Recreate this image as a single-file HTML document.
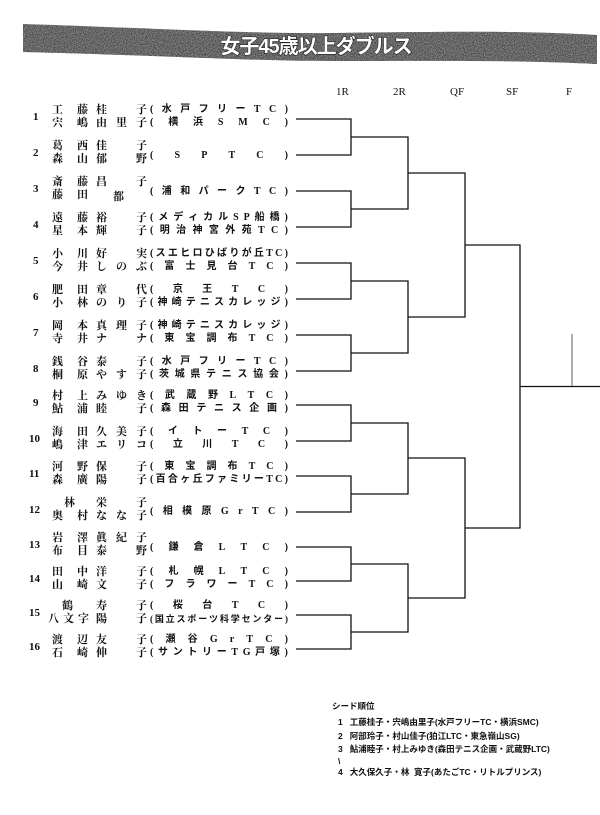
<!DOCTYPE html>
<html><head><meta charset="utf-8">
<style>
html,body{margin:0;padding:0;background:#fff;}
body{width:600px;height:815px;position:relative;overflow:hidden;font-family:"Liberation Serif","Noto Serif CJK SC","Noto Sans CJK JP",serif;color:#111;}
.t{position:absolute;font-size:11px;line-height:12px;font-weight:bold;white-space:nowrap;}
.n{position:absolute;font-size:11px;line-height:12px;font-weight:bold;font-family:"Liberation Serif",serif;}
.c{position:absolute;left:150px;width:138px;display:flex;justify-content:space-between;font-size:10px;line-height:12px;font-weight:bold;font-family:"Liberation Serif","Noto Sans CJK JP",sans-serif;}
.h{position:absolute;top:86px;font-size:11px;font-family:"Liberation Serif",serif;}
.s{position:absolute;left:332px;font-size:8.5px;line-height:11px;font-weight:bold;font-family:"Liberation Sans","Noto Sans CJK JP",sans-serif;white-space:nowrap;}
</style></head><body>
<svg width="600" height="815" style="position:absolute;left:0;top:0">
<defs>
<filter id="nz"><feTurbulence type="fractalNoise" baseFrequency="0.9" numOctaves="2" seed="3"/><feColorMatrix type="matrix" values="0 0 0 0 0  0 0 0 0 0  0 0 0 0 0  0 0 0 -2.2 1.5"/><feComposite in2="SourceGraphic" operator="in"/></filter>
<clipPath id="bc"><path d="M23,24 C150,28 250,34 330,33 C430,32 520,30 597,35 L597,64 C520,60 430,61 330,61 C250,61 150,55 23,52 Z"/></clipPath>
</defs>
<path d="M23,24 C150,28 250,34 330,33 C430,32 520,30 597,35 L597,64 C520,60 430,61 330,61 C250,61 150,55 23,52 Z" fill="#858585"/>
<rect x="0" y="0" width="600" height="80" fill="#fff" filter="url(#nz)" clip-path="url(#bc)" opacity="0.55"/>
<text x="316" y="53" text-anchor="middle" font-family="Liberation Sans,Noto Sans CJK JP,sans-serif" font-size="20" font-weight="bold" fill="#fff" stroke="#222" stroke-width="1.2" paint-order="stroke" letter-spacing="-1">女子45歳以上ダブルス</text>
<g stroke="#111" stroke-width="1.3" fill="none">
<path d="M296,119H351V155H296 M296,191H351V227H296 M296,263H351V299H296 M296,335H351V371H296 M296,405H351V441H296 M296,476H351V512H296 M296,547H351V581H296 M296,615H351V649H296"/>
<path d="M351,137H408V209H351 M351,281H408V353H351 M351,423H408V494H351 M351,564H408V632H351"/>
<path d="M408,173H465V317H408 M408,458H465V598H408"/>
<path d="M465,245H520V528H465 M520,386.5H600"/>
</g>
<path d="M572,334V386" stroke="#777" stroke-width="1.2"/>
</svg>
<div class="h" style="left:336px">1R</div><div class="h" style="left:393px">2R</div><div class="h" style="left:450px">QF</div><div class="h" style="left:506px">SF</div><div class="h" style="left:566px">F</div>

<div class="n" style="left:33px;top:111px">1</div>
<div class="t" style="left:52px;top:104px">工</div><div class="t" style="left:77px;top:104px">藤</div><div class="t" style="left:96px;top:104px">桂</div><div class="t" style="left:136px;top:104px">子</div>
<div class="c" style="top:104px"><span>(</span><span>水</span><span>戸</span><span>フ</span><span>リ</span><span>ー</span><span>T</span><span>C</span><span>)</span></div>
<div class="t" style="left:52px;top:117px">宍</div><div class="t" style="left:77px;top:117px">嶋</div><div class="t" style="left:96px;top:117px">由</div><div class="t" style="left:116px;top:117px">里</div><div class="t" style="left:136px;top:117px">子</div>
<div class="c" style="top:117px"><span>(</span><span>横</span><span>浜</span><span>S</span><span>M</span><span>C</span><span>)</span></div>
<div class="n" style="left:33px;top:147px">2</div>
<div class="t" style="left:52px;top:140px">葛</div><div class="t" style="left:77px;top:140px">西</div><div class="t" style="left:96px;top:140px">佳</div><div class="t" style="left:136px;top:140px">子</div>
<div class="t" style="left:52px;top:153px">森</div><div class="t" style="left:77px;top:153px">山</div><div class="t" style="left:96px;top:153px">郁</div><div class="t" style="left:136px;top:153px">野</div>
<div class="c" style="top:150px"><span>(</span><span>S</span><span>P</span><span>T</span><span>C</span><span>)</span></div>
<div class="n" style="left:33px;top:183px">3</div>
<div class="t" style="left:52px;top:176px">斎</div><div class="t" style="left:77px;top:176px">藤</div><div class="t" style="left:96px;top:176px">昌</div><div class="t" style="left:136px;top:176px">子</div>
<div class="t" style="left:52px;top:189px">藤</div><div class="t" style="left:77px;top:189px">田</div><div class="t" style="left:113px;top:191px">都</div>
<div class="c" style="top:186px"><span>(</span><span>浦</span><span>和</span><span>パ</span><span>ー</span><span>ク</span><span>T</span><span>C</span><span>)</span></div>
<div class="n" style="left:33px;top:219px">4</div>
<div class="t" style="left:52px;top:212px">遠</div><div class="t" style="left:77px;top:212px">藤</div><div class="t" style="left:96px;top:212px">裕</div><div class="t" style="left:136px;top:212px">子</div>
<div class="c" style="top:212px"><span>(</span><span>メ</span><span>デ</span><span>ィ</span><span>カ</span><span>ル</span><span>S</span><span>P</span><span>船</span><span>橋</span><span>)</span></div>
<div class="t" style="left:52px;top:225px">星</div><div class="t" style="left:77px;top:225px">本</div><div class="t" style="left:96px;top:225px">輝</div><div class="t" style="left:136px;top:225px">子</div>
<div class="c" style="top:225px"><span>(</span><span>明</span><span>治</span><span>神</span><span>宮</span><span>外</span><span>苑</span><span>T</span><span>C</span><span>)</span></div>
<div class="n" style="left:33px;top:255px">5</div>
<div class="t" style="left:52px;top:248px">小</div><div class="t" style="left:77px;top:248px">川</div><div class="t" style="left:96px;top:248px">好</div><div class="t" style="left:136px;top:248px">実</div>
<div class="c" style="top:248px"><span>(</span><span>ス</span><span>エ</span><span>ヒ</span><span>ロ</span><span>ひ</span><span>ば</span><span>り</span><span>が</span><span>丘</span><span>T</span><span>C</span><span>)</span></div>
<div class="t" style="left:52px;top:261px">今</div><div class="t" style="left:77px;top:261px">井</div><div class="t" style="left:96px;top:261px">し</div><div class="t" style="left:116px;top:261px">の</div><div class="t" style="left:136px;top:261px">ぶ</div>
<div class="c" style="top:261px"><span>(</span><span>富</span><span>士</span><span>見</span><span>台</span><span>T</span><span>C</span><span>)</span></div>
<div class="n" style="left:33px;top:291px">6</div>
<div class="t" style="left:52px;top:284px">肥</div><div class="t" style="left:77px;top:284px">田</div><div class="t" style="left:96px;top:284px">章</div><div class="t" style="left:136px;top:284px">代</div>
<div class="c" style="top:284px"><span>(</span><span>京</span><span>王</span><span>T</span><span>C</span><span>)</span></div>
<div class="t" style="left:52px;top:297px">小</div><div class="t" style="left:77px;top:297px">林</div><div class="t" style="left:96px;top:297px">の</div><div class="t" style="left:116px;top:297px">り</div><div class="t" style="left:136px;top:297px">子</div>
<div class="c" style="top:297px"><span>(</span><span>神</span><span>崎</span><span>テ</span><span>ニ</span><span>ス</span><span>カ</span><span>レ</span><span>ッ</span><span>ジ</span><span>)</span></div>
<div class="n" style="left:33px;top:327px">7</div>
<div class="t" style="left:52px;top:320px">岡</div><div class="t" style="left:77px;top:320px">本</div><div class="t" style="left:96px;top:320px">真</div><div class="t" style="left:116px;top:320px">理</div><div class="t" style="left:136px;top:320px">子</div>
<div class="c" style="top:320px"><span>(</span><span>神</span><span>崎</span><span>テ</span><span>ニ</span><span>ス</span><span>カ</span><span>レ</span><span>ッ</span><span>ジ</span><span>)</span></div>
<div class="t" style="left:52px;top:333px">寺</div><div class="t" style="left:77px;top:333px">井</div><div class="t" style="left:96px;top:333px">ナ</div><div class="t" style="left:136px;top:333px">ナ</div>
<div class="c" style="top:333px"><span>(</span><span>東</span><span>宝</span><span>調</span><span>布</span><span>T</span><span>C</span><span>)</span></div>
<div class="n" style="left:33px;top:363px">8</div>
<div class="t" style="left:52px;top:356px">銭</div><div class="t" style="left:77px;top:356px">谷</div><div class="t" style="left:96px;top:356px">泰</div><div class="t" style="left:136px;top:356px">子</div>
<div class="c" style="top:356px"><span>(</span><span>水</span><span>戸</span><span>フ</span><span>リ</span><span>ー</span><span>T</span><span>C</span><span>)</span></div>
<div class="t" style="left:52px;top:369px">桐</div><div class="t" style="left:77px;top:369px">原</div><div class="t" style="left:96px;top:369px">や</div><div class="t" style="left:116px;top:369px">す</div><div class="t" style="left:136px;top:369px">子</div>
<div class="c" style="top:369px"><span>(</span><span>茨</span><span>城</span><span>県</span><span>テ</span><span>ニ</span><span>ス</span><span>協</span><span>会</span><span>)</span></div>
<div class="n" style="left:33px;top:397px">9</div>
<div class="t" style="left:52px;top:390px">村</div><div class="t" style="left:77px;top:390px">上</div><div class="t" style="left:96px;top:390px">み</div><div class="t" style="left:116px;top:390px">ゆ</div><div class="t" style="left:136px;top:390px">き</div>
<div class="c" style="top:390px"><span>(</span><span>武</span><span>蔵</span><span>野</span><span>L</span><span>T</span><span>C</span><span>)</span></div>
<div class="t" style="left:52px;top:403px">鮎</div><div class="t" style="left:77px;top:403px">浦</div><div class="t" style="left:96px;top:403px">睦</div><div class="t" style="left:136px;top:403px">子</div>
<div class="c" style="top:403px"><span>(</span><span>森</span><span>田</span><span>テ</span><span>ニ</span><span>ス</span><span>企</span><span>画</span><span>)</span></div>
<div class="n" style="left:29px;top:433px">10</div>
<div class="t" style="left:52px;top:426px">海</div><div class="t" style="left:77px;top:426px">田</div><div class="t" style="left:96px;top:426px">久</div><div class="t" style="left:116px;top:426px">美</div><div class="t" style="left:136px;top:426px">子</div>
<div class="c" style="top:426px"><span>(</span><span>イ</span><span>ト</span><span>ー</span><span>T</span><span>C</span><span>)</span></div>
<div class="t" style="left:52px;top:439px">嶋</div><div class="t" style="left:77px;top:439px">津</div><div class="t" style="left:96px;top:439px">エ</div><div class="t" style="left:116px;top:439px">リ</div><div class="t" style="left:136px;top:439px">コ</div>
<div class="c" style="top:439px"><span>(</span><span>立</span><span>川</span><span>T</span><span>C</span><span>)</span></div>
<div class="n" style="left:29px;top:468px">11</div>
<div class="t" style="left:52px;top:461px">河</div><div class="t" style="left:77px;top:461px">野</div><div class="t" style="left:96px;top:461px">保</div><div class="t" style="left:136px;top:461px">子</div>
<div class="c" style="top:461px"><span>(</span><span>東</span><span>宝</span><span>調</span><span>布</span><span>T</span><span>C</span><span>)</span></div>
<div class="t" style="left:52px;top:474px">森</div><div class="t" style="left:77px;top:474px">廣</div><div class="t" style="left:96px;top:474px">陽</div><div class="t" style="left:136px;top:474px">子</div>
<div class="c" style="top:474px"><span>(</span><span>百</span><span>合</span><span>ヶ</span><span>丘</span><span>フ</span><span>ァ</span><span>ミ</span><span>リ</span><span>ー</span><span>T</span><span>C</span><span>)</span></div>
<div class="n" style="left:29px;top:504px">12</div>
<div class="t" style="left:64px;top:497px">林</div><div class="t" style="left:96px;top:497px">栄</div><div class="t" style="left:136px;top:497px">子</div>
<div class="t" style="left:52px;top:510px">奥</div><div class="t" style="left:77px;top:510px">村</div><div class="t" style="left:96px;top:510px">な</div><div class="t" style="left:116px;top:510px">な</div><div class="t" style="left:136px;top:510px">子</div>
<div class="c" style="top:506px"><span>(</span><span>相</span><span>模</span><span>原</span><span>G</span><span>r</span><span>T</span><span>C</span><span>)</span></div>
<div class="n" style="left:29px;top:539px">13</div>
<div class="t" style="left:52px;top:532px">岩</div><div class="t" style="left:77px;top:532px">澤</div><div class="t" style="left:96px;top:532px">眞</div><div class="t" style="left:116px;top:532px">紀</div><div class="t" style="left:136px;top:532px">子</div>
<div class="t" style="left:52px;top:545px">布</div><div class="t" style="left:77px;top:545px">目</div><div class="t" style="left:96px;top:545px">泰</div><div class="t" style="left:136px;top:545px">野</div>
<div class="c" style="top:542px"><span>(</span><span>鎌</span><span>倉</span><span>L</span><span>T</span><span>C</span><span>)</span></div>
<div class="n" style="left:29px;top:573px">14</div>
<div class="t" style="left:52px;top:566px">田</div><div class="t" style="left:77px;top:566px">中</div><div class="t" style="left:96px;top:566px">洋</div><div class="t" style="left:136px;top:566px">子</div>
<div class="c" style="top:566px"><span>(</span><span>札</span><span>幌</span><span>L</span><span>T</span><span>C</span><span>)</span></div>
<div class="t" style="left:52px;top:579px">山</div><div class="t" style="left:77px;top:579px">崎</div><div class="t" style="left:96px;top:579px">文</div><div class="t" style="left:136px;top:579px">子</div>
<div class="c" style="top:579px"><span>(</span><span>フ</span><span>ラ</span><span>ワ</span><span>ー</span><span>T</span><span>C</span><span>)</span></div>
<div class="n" style="left:29px;top:607px">15</div>
<div class="t" style="left:62px;top:600px">鶴</div><div class="t" style="left:96px;top:600px">寿</div><div class="t" style="left:136px;top:600px">子</div>
<div class="c" style="top:600px"><span>(</span><span>桜</span><span>台</span><span>T</span><span>C</span><span>)</span></div>
<div class="t" style="left:48px;top:613px">八</div><div class="t" style="left:63px;top:613px">文</div><div class="t" style="left:78px;top:613px">字</div><div class="t" style="left:96px;top:613px">陽</div><div class="t" style="left:136px;top:613px">子</div>
<div class="c" style="top:613px;font-size:9px"><span>(</span><span>国</span><span>立</span><span>ス</span><span>ポ</span><span>ー</span><span>ツ</span><span>科</span><span>学</span><span>セ</span><span>ン</span><span>タ</span><span>ー</span><span>)</span></div>
<div class="n" style="left:29px;top:641px">16</div>
<div class="t" style="left:52px;top:634px">渡</div><div class="t" style="left:77px;top:634px">辺</div><div class="t" style="left:96px;top:634px">友</div><div class="t" style="left:136px;top:634px">子</div>
<div class="c" style="top:634px"><span>(</span><span>瀬</span><span>谷</span><span>G</span><span>r</span><span>T</span><span>C</span><span>)</span></div>
<div class="t" style="left:52px;top:647px">石</div><div class="t" style="left:77px;top:647px">崎</div><div class="t" style="left:96px;top:647px">伸</div><div class="t" style="left:136px;top:647px">子</div>
<div class="c" style="top:647px"><span>(</span><span>サ</span><span>ン</span><span>ト</span><span>リ</span><span>ー</span><span>T</span><span>G</span><span>戸</span><span>塚</span><span>)</span></div>

<div class="s" style="top:701px">シード順位</div>
<div class="s" style="top:717px;left:338px">1&nbsp;&nbsp;&nbsp;工藤桂子・宍嶋由里子(水戸フリーTC・横浜SMC)</div>
<div class="s" style="top:731px;left:338px">2&nbsp;&nbsp;&nbsp;阿部玲子・村山佳子(狛江LTC・東急嶺山SG)</div>
<div class="s" style="top:744px;left:338px">3&nbsp;&nbsp;&nbsp;鮎浦睦子・村上みゆき(森田テニス企画・武蔵野LTC)</div>
<div class="s" style="top:756px;left:338px">\</div>
<div class="s" style="top:767px;left:338px">4&nbsp;&nbsp;&nbsp;大久保久子・林&nbsp;&nbsp;寛子(あたごTC・リトルプリンス)</div>
</body></html>
